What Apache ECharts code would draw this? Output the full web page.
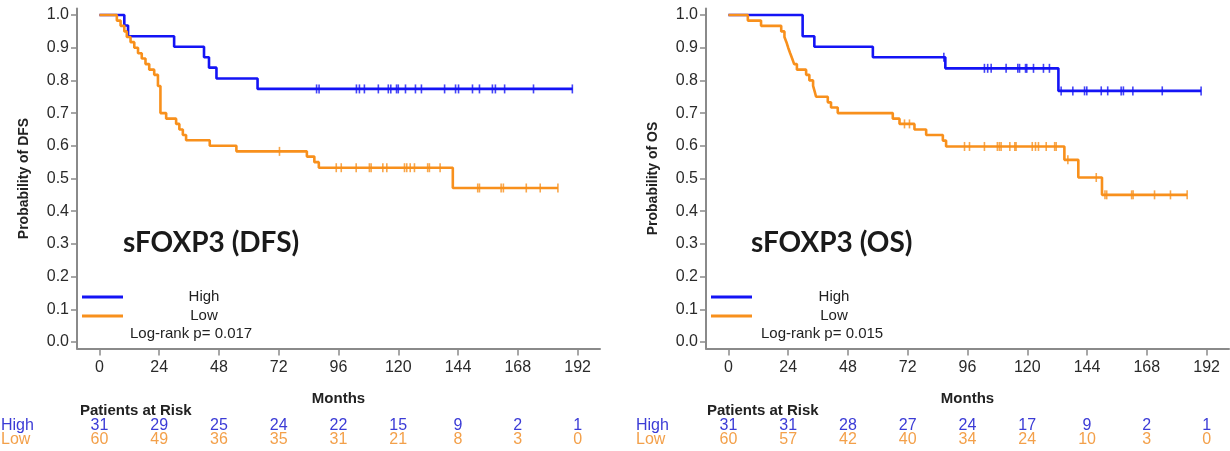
<!DOCTYPE html>
<html lang="en">
<head>
    <meta charset="UTF-8">
    <title>sFOXP3 Kaplan-Meier</title>
    <style>
        html, body { margin: 0; padding: 0; background: #fff; }
        #chart { width: 1230px; height: 451px; }
    </style>
</head>
<body>
    <div id="chart"></div>
    <script src="https://cdn.jsdelivr.net/npm/echarts@6.0.0/dist/echarts.min.js"></script>
    <script>
        // axis ticks
        const xTicks = [0, 24, 48, 72, 96, 120, 144, 168, 192];
        const yTicks = [0, 0.1, 0.2, 0.3, 0.4, 0.5, 0.6, 0.7, 0.8, 0.9, 1.0];

        // patients at risk (read at xTicks)
        const dfsRiskHigh = [31, 29, 25, 24, 22, 15, 9, 2, 1];
        const dfsRiskLow = [60, 49, 36, 35, 31, 21, 8, 3, 0];
        const osRiskHigh = [31, 31, 28, 27, 24, 17, 9, 2, 1];
        const osRiskLow = [60, 57, 42, 40, 34, 24, 10, 3, 0];

        // DFS curves: step times (months) and survival
        const dfsHighT = [0, 10, 11.5, 30, 42, 44, 47, 63.5, 190];
        const dfsHighS = [1, 0.968, 0.935, 0.903, 0.871, 0.839, 0.806, 0.774, 0.774];
        const dfsHighCens = [87.2, 88.2, 103.2, 104.4, 106.4, 112, 116, 117, 119.3, 120, 122.9, 126.9, 129.3,
            138.6, 143, 144.2, 149.8, 152.6, 157.8, 159, 162.7, 174.3, 189.9];

        const dfsLowT = [0, 7, 8.5, 10, 11, 12.5, 14, 15.5, 17, 18.5, 20, 22, 23.5, 24.5, 26.8, 30.8, 32.1, 33.5,
            34.8, 44.3, 55, 83.3, 86.3, 88.1, 141.9, 184.1];
        const dfsLowS = [1, 0.983, 0.967, 0.95, 0.933, 0.917, 0.9, 0.883, 0.867, 0.85, 0.833, 0.817, 0.783, 0.70,
            0.683, 0.667, 0.65, 0.633, 0.617, 0.60, 0.583, 0.567, 0.55, 0.533, 0.471, 0.471];
        const dfsLowCens = [72.3, 95.1, 97.1, 103.1, 108.4, 109.1, 113.8, 115.4, 122.5, 123.4, 124.8, 126.5, 131.8,
            132.5, 136.8, 151.9, 152.6, 161.3, 162.2, 171.4, 177, 184.1];

        // OS curves
        const osHighT = [0, 29.8, 34.5, 58, 87.1, 132.5, 189.8];
        const osHighS = [1, 0.935, 0.903, 0.871, 0.837, 0.768, 0.768];
        const osHighCens = [86.5, 102.8, 104.1, 105.5, 111.5, 116.2, 116.9, 119.3, 119.8, 122.5, 126.5, 128.9,
            133.6, 138.3, 143, 143.9, 149.7, 152.3, 157.7, 158.6, 162.4, 174.2, 189.8];

        const osLowT = [0, 7.8, 13.1, 21.2, 22.5, 23.3, 24, 24.8, 25.6, 26.4, 27.5, 31.2, 32.5, 34, 34.6, 35.2,
            39.9, 41.2, 43.9, 66, 68.7, 74.7, 79.4, 86.1, 87.4, 134.9, 140.5, 150, 184.2];
        const osLowS = [1, 0.983, 0.967, 0.95, 0.933, 0.917, 0.9, 0.883, 0.867, 0.85, 0.833, 0.817, 0.80, 0.783,
            0.767, 0.75, 0.733, 0.717, 0.70, 0.683, 0.667, 0.65, 0.633, 0.616, 0.598, 0.557, 0.503, 0.45, 0.45];
        const osLowCens = [70.7, 72.7, 94.8, 96.8, 102.8, 108, 108.8, 109.5, 113, 115, 115.5, 122, 123.3, 124.5,
            127.6, 131, 131.6, 136.3, 147.7, 151.2, 151.9, 161.9, 162.5, 171.1, 177.5, 184.2];

        const BLUE = '#1414f5';
        const ORANGE = '#f8901c';
        const BLUE_TXT = '#3b3bd6';
        const ORANGE_TXT = '#f3a04a';
        const AXIS = '#8a8a8a';
        const LABEL = '#2a2a2a';

        function pairs(t, s) {
            return t.map((v, i) => [v, s[i]]);
        }
        // survival level in force at time tc
        function cens(t, s, times) {
            return times.map(tc => {
                let k = 0;
                for (let i = 0; i < t.length; i++) if (t[i] <= tc) k = i;
                return [tc, s[k]];
            });
        }

        const grids = [
            { left: 77, top: 8.5, width: 523, height: 340 },
            { left: 706, top: 8.5, width: 523, height: 340 }
        ];

        function xAxisFor(i) {
            return {
                gridIndex: i, type: 'value', min: -9, max: 201,
                splitLine: { show: false },
                axisLine: { onZero: false, lineStyle: { color: AXIS, width: 2 } },
                axisTick: { customValues: xTicks, length: 7, lineStyle: { color: AXIS, width: 1.5 } },
                axisLabel: { customValues: xTicks, margin: 11, fontSize: 16, color: LABEL, fontFamily: 'Liberation Sans' },
                name: 'Months', nameLocation: 'middle', nameGap: 43,
                nameTextStyle: { fontSize: 15, fontWeight: 'bold', color: '#222', fontFamily: 'Liberation Sans' }
            };
        }
        function yAxisFor(i, name) {
            return {
                gridIndex: i, type: 'value', min: -0.02, max: 1.02,
                splitLine: { show: false },
                axisLine: { show: true, onZero: false, lineStyle: { color: AXIS, width: 2 } },
                axisTick: { show: true, customValues: yTicks, length: 6, lineStyle: { color: AXIS, width: 1.5 } },
                axisLabel: {
                    customValues: yTicks, margin: 8, fontSize: 16, color: LABEL, fontFamily: 'Liberation Sans',
                    formatter: v => v.toFixed(1)
                },
                name: name, nameLocation: 'middle', nameGap: 46,
                nameTextStyle: { fontSize: 14, fontWeight: 'bold', color: '#222', fontFamily: 'Liberation Sans' }
            };
        }

        function curve(i, t, s, color) {
            return {
                type: 'line', xAxisIndex: i, yAxisIndex: i, step: 'end', showSymbol: false,
                data: pairs(t, s), lineStyle: { color: color, width: 2.6 }, z: 3
            };
        }
        function marks(i, t, s, times, color) {
            return {
                type: 'scatter', xAxisIndex: i, yAxisIndex: i, symbol: 'rect', symbolSize: [1.6, 9],
                data: cens(t, s, times), itemStyle: { color: color }, z: 4
            };
        }

        const chart = echarts.init(document.getElementById('chart'));
        chart.setOption({
            animation: false,
            grid: grids,
            xAxis: [xAxisFor(0), xAxisFor(1)],
            yAxis: [yAxisFor(0, 'Probability of DFS'), yAxisFor(1, 'Probability of OS')],
            series: [
                curve(0, dfsHighT, dfsHighS, BLUE),
                curve(0, dfsLowT, dfsLowS, ORANGE),
                marks(0, dfsHighT, dfsHighS, dfsHighCens, BLUE),
                marks(0, dfsLowT, dfsLowS, dfsLowCens, ORANGE),
                curve(1, osHighT, osHighS, BLUE),
                curve(1, osLowT, osLowS, ORANGE),
                marks(1, osHighT, osHighS, osHighCens, BLUE),
                marks(1, osLowT, osLowS, osLowCens, ORANGE)
            ]
        });

        // annotations: titles, legends, at-risk table
        const g = [];
        function txt(x, y, text, opt) {
            g.push({
                type: 'text', x: x, y: y,
                style: Object.assign({
                    text: text, fontSize: 15, fontFamily: 'Liberation Sans', fill: '#222',
                    textVerticalAlign: 'middle', verticalAlign: 'middle'
                }, opt || {})
            });
        }
        function seg(x1, x2, y, color) {
            g.push({ type: 'line', shape: { x1: x1, y1: y, x2: x2, y2: y }, style: { stroke: color, lineWidth: 3 } });
        }

        const panels = [
            { i: 0, title: 'sFOXP3 (DFS)', p: 'Log-rank p= 0.017', hi: dfsRiskHigh, lo: dfsRiskLow,
              tx: 123, lx: 82, lt: 204, px: 130, rowX: 1, parX: 80 },
            { i: 1, title: 'sFOXP3 (OS)', p: 'Log-rank p= 0.015', hi: osRiskHigh, lo: osRiskLow,
              tx: 751, lx: 711, lt: 834, px: 761, rowX: 636, parX: 707 }
        ];
        panels.forEach(pn => {
            txt(pn.tx, 243, pn.title, { fontSize: 28, fontWeight: 'bold', fontFamily: 'Lato', fill: '#1a1a1a' });
            seg(pn.lx, pn.lx + 41, 297, BLUE);
            seg(pn.lx, pn.lx + 41, 316, ORANGE);
            txt(pn.lt, 297, 'High', { align: 'center', textAlign: 'center' });
            txt(pn.lt, 316, 'Low', { align: 'center', textAlign: 'center' });
            txt(pn.px, 334, pn.p);
            txt(pn.parX, 411, 'Patients at Risk', { fontWeight: 'bold', fontSize: 15 });
            txt(pn.rowX, 426, 'High', { fill: BLUE_TXT, fontFamily: 'Liberation Sans Narrow, Liberation Sans', fontSize: 16 });
            txt(pn.rowX, 440, 'Low', { fill: ORANGE_TXT, fontFamily: 'Liberation Sans Narrow, Liberation Sans', fontSize: 16 });
            xTicks.forEach((m, k) => {
                const x = chart.convertToPixel({ xAxisIndex: pn.i }, m);
                const o = { align: 'center', textAlign: 'center', fontFamily: 'Liberation Sans Narrow, Liberation Sans', fontSize: 16 };
                txt(x, 426, String(pn.hi[k]), Object.assign({ fill: BLUE_TXT }, o));
                txt(x, 440, String(pn.lo[k]), Object.assign({ fill: ORANGE_TXT }, o));
            });
        });
        chart.setOption({ graphic: g });
    </script>
</body>
</html>
